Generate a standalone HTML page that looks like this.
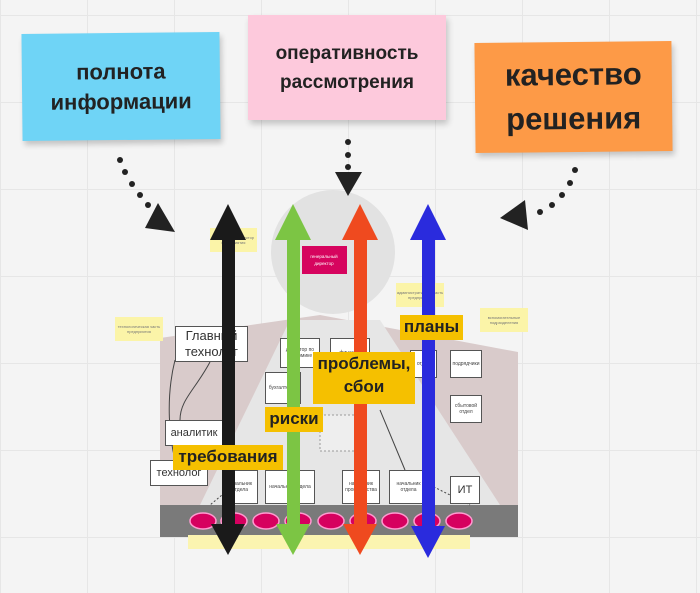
<!DOCTYPE html>
<html><head><meta charset="utf-8"><style>
body{margin:0;width:700px;height:593px;overflow:hidden;background:#f4f4f4;font-family:"Liberation Sans","DejaVu Sans",sans-serif;position:relative}
.grid{position:absolute;inset:0;background-image:linear-gradient(#e6e6e6 1px,transparent 1px),linear-gradient(90deg,#e6e6e6 1px,transparent 1px);background-size:87px 87px;background-position:0 15px}
.n{position:absolute;display:flex;align-items:center;justify-content:center;text-align:center;font-weight:bold;color:#222;box-shadow:2px 4px 6px rgba(0,0,0,.2)}
.b{position:absolute;background:#fff;border:1.5px solid #555;font-size:5px;display:flex;align-items:center;justify-content:center;text-align:center;color:#444}
.l{position:absolute;background:#f5c000;font-weight:bold;color:#222;font-size:17px;text-align:center;line-height:23px}
.y{position:absolute;background:#fbf4a8;font-size:4px;color:#777;display:flex;align-items:center;justify-content:center;text-align:center}
svg{position:absolute;left:0;top:0}
</style></head><body>
<div class="grid"></div>
<div class="n" style="left:22px;top:33px;width:198px;height:107px;background:#6fd4f6;font-size:22px;line-height:30px;transform:rotate(-0.6deg)">полнота<br>информации</div>
<div class="n" style="left:248px;top:15px;width:198px;height:105px;background:#fdc9dc;font-size:19px;line-height:29px">оперативность<br>рассмотрения</div>
<div class="n" style="left:475px;top:42px;width:197px;height:110px;background:#fd9a47;font-size:31px;line-height:44px;transform:rotate(-0.6deg)">качество<br>решения</div>
<svg width="700" height="593">
<circle cx="333" cy="252" r="62" fill="#e2e2e2"/>
<polygon points="160,338 320,315 518,352 518,505 160,505" fill="#d9cbcb"/>
<polygon points="290,320 380,320 500,505 200,505" fill="#e6e6e6"/>
<rect x="160" y="505" width="358" height="32" fill="#7a7a7a"/>
<g fill="#d6005f" stroke="#ff9ad0" stroke-width="1.5">
<ellipse cx="203" cy="521" rx="13" ry="8"/><ellipse cx="234" cy="521" rx="13" ry="8"/><ellipse cx="266" cy="521" rx="13" ry="8"/><ellipse cx="298" cy="521" rx="13" ry="8"/><ellipse cx="331" cy="521" rx="13" ry="8"/><ellipse cx="363" cy="521" rx="13" ry="8"/><ellipse cx="395" cy="521" rx="13" ry="8"/><ellipse cx="427" cy="521" rx="13" ry="8"/><ellipse cx="459" cy="521" rx="13" ry="8"/></g>
<rect x="188" y="535" width="282" height="14" fill="#fbf4b0"/>
<rect x="302" y="246" width="45" height="28" fill="#d6045e"/>
<text x="324" y="258" font-size="4.5" fill="#fff" text-anchor="middle">генеральный</text><text x="324" y="265" font-size="4.5" fill="#fff" text-anchor="middle">директор</text>
<g stroke="#444" stroke-width="1" fill="none"><path d="M175,360 C165,400 170,440 175,460"/><path d="M210,362 C195,390 180,400 180,420"/><path d="M380,410 L405,470"/><path d="M240,480 L210,505" stroke-dasharray="2,2"/><path d="M430,485 L470,505" stroke-dasharray="2,2"/></g>
<rect x="320" y="415" width="45" height="36" fill="#eee" stroke="#999" stroke-dasharray="2,2"/>
<g fill="#222"><circle cx="120" cy="160" r="3"/><circle cx="125" cy="172" r="3"/><circle cx="132" cy="184" r="3"/><circle cx="140" cy="195" r="3"/><circle cx="148" cy="205" r="3"/><polygon points="158,203 175,232 145,228"/>
<circle cx="348" cy="142" r="3"/><circle cx="348" cy="155" r="3"/><circle cx="348" cy="167" r="3"/><polygon points="335,172 362,172 348,196"/>
<circle cx="575" cy="170" r="3"/><circle cx="570" cy="183" r="3"/><circle cx="562" cy="195" r="3"/><circle cx="552" cy="205" r="3"/><circle cx="540" cy="212" r="3"/><polygon points="500,218 525,200 528,230"/></g>
</svg>
<div class="y" style="left:210px;top:228px;width:47px;height:24px">технический директор предприятия</div>
<div class="y" style="left:115px;top:317px;width:48px;height:24px">технологическая часть предприятия</div>
<div class="y" style="left:396px;top:283px;width:48px;height:24px">административная часть предприятия</div>
<div class="y" style="left:480px;top:308px;width:48px;height:24px">вспомогательные подразделения</div>
<div class="b" style="left:175px;top:326px;width:71px;height:34px;font-size:13px;line-height:16px;color:#333">Главный<br>технолог</div>
<div class="b" style="left:280px;top:338px;width:38px;height:28px">директор по экономике</div>
<div class="b" style="left:330px;top:338px;width:38px;height:28px">финансы</div>
<div class="b" style="left:265px;top:372px;width:34px;height:30px">бухгалтерия</div>
<div class="b" style="left:410px;top:350px;width:25px;height:26px">отдел</div>
<div class="b" style="left:450px;top:350px;width:30px;height:26px">подрядчики</div>
<div class="b" style="left:450px;top:395px;width:30px;height:26px">сбытовой отдел</div>
<div class="b" style="left:165px;top:420px;width:56px;height:24px;font-size:11px;color:#333">аналитик</div>
<div class="b" style="left:150px;top:460px;width:56px;height:24px;font-size:11px;color:#333">технолог</div>
<div class="b" style="left:222px;top:470px;width:34px;height:32px">начальник отдела</div>
<div class="b" style="left:265px;top:470px;width:48px;height:32px">начальник отдела</div>
<div class="b" style="left:342px;top:470px;width:36px;height:32px">начальник производства</div>
<div class="b" style="left:389px;top:470px;width:37px;height:32px">начальник отдела</div>
<div class="b" style="left:450px;top:476px;width:28px;height:26px;font-size:11px;color:#333">ИТ</div>
<svg width="700" height="593">
<rect x="222" y="234" width="13" height="296" fill="#1a1a1a"/><polygon points="210,240 246,240 228,204" fill="#1a1a1a"/><polygon points="211,524 245,524 228,555" fill="#1a1a1a"/>
<rect x="287" y="234" width="13" height="296" fill="#7cc544"/><polygon points="275,240 311,240 293,204" fill="#7cc544"/><polygon points="276,524 310,524 293,555" fill="#7cc544"/>
<rect x="354" y="234" width="13" height="296" fill="#ef4a1f"/><polygon points="342,240 378,240 360,204" fill="#ef4a1f"/><polygon points="343,524 377,524 360,555" fill="#ef4a1f"/>
<rect x="422" y="234" width="13" height="296" fill="#2a2bdd"/><polygon points="410,240 446,240 428,204" fill="#2a2bdd"/><polygon points="411,526 445,526 428,558" fill="#2a2bdd"/>
</svg>
<div class="l" style="left:400px;top:315px;width:63px;height:25px">планы</div>
<div class="l" style="left:313px;top:352px;width:102px;height:52px">проблемы,<br>сбои</div>
<div class="l" style="left:265px;top:407px;width:58px;height:25px">риски</div>
<div class="l" style="left:173px;top:445px;width:110px;height:25px">требования</div>
</body></html>
